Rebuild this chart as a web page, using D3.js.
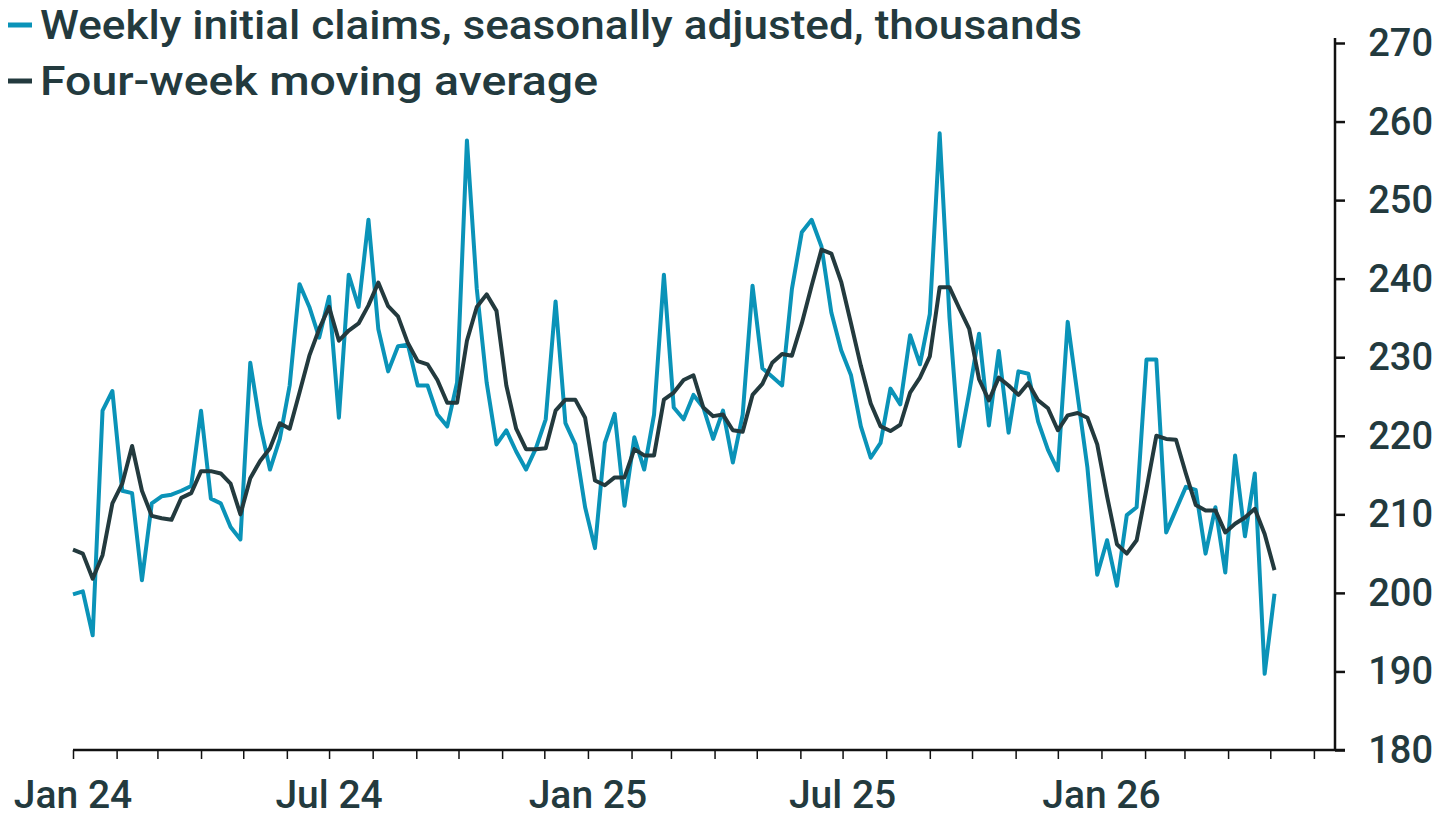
<!DOCTYPE html>
<html><head><meta charset="utf-8">
<script src="https://cdn.jsdelivr.net/npm/d3@7"></script>
<style>body{margin:0;background:#fff}svg{display:block}text{font-family:Roboto,"Noto Sans",sans-serif;font-weight:500;fill:#233a3e}</style>
</head><body><svg id="c" width="1440" height="822"></svg>
<script>
const startDate = "2024-01-01";
const claims = [199.8,200.2,194.6,223.2,225.7,213,212.7,201.6,211.4,212.3,212.5,213,213.6,223.2,212,211.4,208.4,206.8,229.3,221.4,215.7,219.6,226.4,239.3,236.4,232.5,237.7,222.3,240.5,236.4,247.5,233.6,228.2,231.4,231.6,226.4,226.4,222.7,221.2,226.8,257.6,238.7,226.8,218.9,220.7,218,215.7,218.4,222.1,237.1,221.6,218.9,210.9,205.7,219.1,222.8,211.1,219.8,215.7,222.7,240.5,223.6,222.1,225.2,223.6,219.6,223.2,216.6,222.7,239.1,228.6,227.5,226.4,238.7,245.9,247.5,244.1,235.7,230.9,227.7,221.2,217.2,219.1,226,224,232.8,229.1,235.5,258.5,235,218.7,225.5,233,221.3,230.8,220.4,228.2,227.9,221.8,218.2,215.6,234.5,225.2,216,202.3,206.7,200.9,209.9,210.9,229.7,229.7,207.7,210.6,213.5,213.1,205,210.9,202.6,217.5,207.2,215.2,189.7,199.9];
const movingAvg = [205.5,205,201.8,204.8,211.4,213.9,218.7,213,209.8,209.5,209.3,212.1,212.7,215.5,215.5,215.2,213.9,210,214.6,216.8,218.4,221.6,220.9,225.5,230.2,233.6,236.4,232.1,233.4,234.3,236.6,239.5,236.5,235.2,231.8,229.5,229.1,227.1,224.2,224.2,232.1,236.4,238,235.9,226.4,220.9,218.3,218.3,218.4,223.2,224.6,224.6,222.3,214.3,213.7,214.7,214.7,218.3,217.5,217.5,224.6,225.5,227.1,227.7,223.6,222.5,222.7,220.7,220.5,225.2,226.6,229.3,230.4,230.2,234.3,239.1,243.7,243.2,239.6,234.3,228.9,224.1,221.2,220.6,221.4,225.5,227.4,230.1,238.9,238.9,236.2,233.6,227.2,224.5,227.4,226.4,225.2,226.7,224.5,223.5,220.7,222.6,222.9,222.3,218.9,212.3,206.2,205,206.7,213.2,220,219.6,219.5,215.2,211.2,210.5,210.5,207.7,208.8,209.6,210.7,207.5,202.9];
const yTicks = [180,190,200,210,220,230,240,250,260,270];
const xLabels = [["2024-01-01","Jan 24"],["2024-07-01","Jul 24"],["2025-01-01","Jan 25"],["2025-07-01","Jul 25"],["2026-01-01","Jan 26"]];
const legend = [["Weekly initial claims, seasonally adjusted, thousands","#0a93b8",1042],["Four-week moving average","#233a3e",558]];

const svg = d3.select("#c");
const p = d3.timeParse("%Y-%m-%d");
const t0 = p(startDate);
const dates = claims.map((_, i) => d3.timeDay.offset(t0, 7*i));
const x = d3.scaleTime().domain([p("2024-01-01"), p("2026-06-16")]).range([73, 1335]);
const y = d3.scaleLinear().domain([180, 270]).range([750, 43]);

const xa = svg.append("g").attr("transform","translate(0,750)")
  .call(d3.axisBottom(x).ticks(d3.timeMonth.every(1)).tickSize(9).tickFormat(""));
xa.select(".domain").attr("stroke","#111").attr("stroke-width",2.5).attr("d","M73,0H1345");
xa.selectAll(".tick line").attr("stroke","#111").attr("stroke-width",1.5);
svg.selectAll(".xl").data(xLabels).join("text")
  .attr("x", d => x(p(d[0]))).attr("y", 808).attr("text-anchor","middle")
  .attr("font-size", 39).text(d => d[1]);

const ya = svg.append("g").attr("transform","translate(1335,0)")
  .call(d3.axisRight(y).tickValues(yTicks).tickSize(10).tickFormat(""));
ya.select(".domain").attr("stroke","#111").attr("stroke-width",2.5).attr("d","M0,38V750");
ya.selectAll(".tick line").attr("stroke","#111").attr("stroke-width",2.5);
svg.selectAll(".yl").data(yTicks).join("text")
  .attr("x", 1433).attr("y", d => y(d) + 13).attr("text-anchor","end")
  .attr("font-size", 38).text(d => d);

const line = d3.line().x((d,i) => x(dates[i])).y(d => y(d));
svg.append("path").datum(claims).attr("d", line).attr("fill","none")
  .attr("stroke","#0a93b8").attr("stroke-width",4).attr("stroke-linejoin","round");
svg.append("path").datum(movingAvg).attr("d", line).attr("fill","none")
  .attr("stroke","#233a3e").attr("stroke-width",4).attr("stroke-linejoin","round");

const lg = svg.selectAll(".lg").data(legend).join("g").attr("transform",(d,i)=>`translate(0,${25+i*56})`);
lg.append("line").attr("x1",8).attr("x2",32).attr("y1",0).attr("y2",0).attr("stroke",d=>d[1]).attr("stroke-width",5);
lg.append("text").attr("x",40).attr("y",14).attr("font-size",40)
  .attr("textLength",d=>d[2]).attr("lengthAdjust","spacingAndGlyphs").text(d=>d[0]);
</script></body></html>
